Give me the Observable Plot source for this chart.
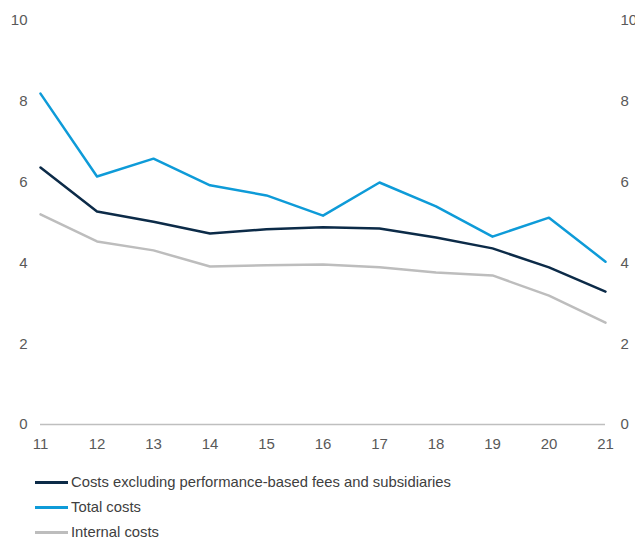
<!DOCTYPE html>
<html>
<head>
<meta charset="utf-8">
<script src="https://cdn.jsdelivr.net/npm/d3@7"></script>
<script src="https://cdn.jsdelivr.net/npm/@observablehq/plot@0.6"></script>
<style>
  body { margin: 0; background: #fff; font-family: "Liberation Sans", Arial, sans-serif; }
  #chart { width: 635px; }
  #chart svg text { font-size: 15px; font-family: "Liberation Sans", Arial, sans-serif; }
  .legend { padding-top: 10px; }
  .legend .row { height: 25px; display: flex; align-items: center; font-size: 14.8px; line-height: 17px; color: #404040; }
  .legend .sw { width: 33px; height: 3px; margin-left: 35px; margin-right: 3px; }
</style>
</head>
<body>
<div id="chart"></div>
<script>
const years = [11, 12, 13, 14, 15, 16, 17, 18, 19, 20, 21];
const excludingValues = [6.36, 5.27, 5.02, 4.73, 4.83, 4.88, 4.85, 4.63, 4.36, 3.89, 3.29];
const totalValues = [8.19, 6.14, 6.58, 5.92, 5.67, 5.17, 5.99, 5.40, 4.65, 5.12, 4.03];
const internalValues = [5.20, 4.53, 4.31, 3.91, 3.94, 3.96, 3.89, 3.76, 3.69, 3.19, 2.52];
const seriesNames = ["Costs excluding performance-based fees and subsidiaries", "Total costs", "Internal costs"];
const seriesColors = ["#0c2b48", "#0e9bd8", "#bdbdbd"];
const yTicks = [0, 2, 4, 6, 8, 10];

const seriesValues = [excludingValues, totalValues, internalValues];
const data = [];
seriesNames.forEach((name, i) => {
  years.forEach((yr, j) => data.push({ series: name, year: yr, value: seriesValues[i][j] }));
});

const chart = Plot.plot({
  width: 635,
  height: 460,
  marginTop: 20,
  marginBottom: 36,
  marginLeft: 40,
  marginRight: 30,
  style: { fontFamily: "Liberation Sans, Arial, sans-serif", fontSize: "15px", color: "#595959", background: "#fff" },
  x: { domain: [11, 21], ticks: years, tickFormat: d => String(d) },
  y: { domain: [0, 10], ticks: yTicks },
  marks: [
    Plot.ruleY([0], { stroke: "#bfbfbf", strokeWidth: 1.5 }),
    Plot.axisX({ ticks: years, tickSize: 0, tickPadding: 14, fontSize: 15, fill: "#595959", label: null }),
    Plot.axisY({ anchor: "left", ticks: yTicks, tickSize: 0, tickPadding: 13, fontSize: 15, fill: "#595959", label: null }),
    Plot.axisY({ anchor: "right", ticks: yTicks, tickSize: 0, tickPadding: 15, fontSize: 15, fill: "#595959", label: null }),
    Plot.line(data.filter(d => d.series === seriesNames[2]), { x: "year", y: "value", stroke: seriesColors[2], strokeWidth: 2.5 }),
    Plot.line(data.filter(d => d.series === seriesNames[0]), { x: "year", y: "value", stroke: seriesColors[0], strokeWidth: 2.5 }),
    Plot.line(data.filter(d => d.series === seriesNames[1]), { x: "year", y: "value", stroke: seriesColors[1], strokeWidth: 2.5 })
  ]
});
const root = document.getElementById("chart");
root.appendChild(chart);

const legend = document.createElement("div");
legend.className = "legend";
seriesNames.forEach((name, i) => {
  const row = document.createElement("div");
  row.className = "row";
  const sw = document.createElement("span");
  sw.className = "sw";
  sw.style.background = seriesColors[i];
  const t = document.createElement("span");
  t.textContent = name;
  row.appendChild(sw);
  row.appendChild(t);
  legend.appendChild(row);
});
root.appendChild(legend);
</script>
</body>
</html>
